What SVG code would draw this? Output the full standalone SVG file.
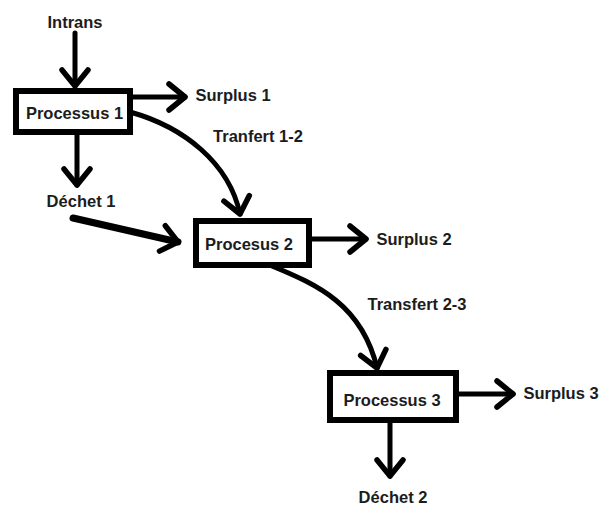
<svg xmlns="http://www.w3.org/2000/svg" width="603" height="507" viewBox="0 0 603 507">
  <defs>
    <style>
      .box { fill: #ffffff; stroke: #000000; stroke-width: 6; }
      .lbl { font-family: "Liberation Sans", Arial, sans-serif; font-weight: bold; font-size: 16.5px; fill: #1c1c1c; text-anchor: middle; }
      .con { fill: none; stroke: #000000; stroke-width: 5; stroke-linecap: round; marker-end: url(#chev); }
      .thick { stroke-width: 7; }
    </style>
    <marker id="chev" markerUnits="userSpaceOnUse" viewBox="-20 -16 24 32" markerWidth="24" markerHeight="32" refX="0" refY="0" orient="auto" overflow="visible">
      <path d="M-16,-13 L0,0 L-16,13" fill="none" stroke="#000000" stroke-width="5.5" stroke-linecap="round" stroke-linejoin="round"/>
    </marker>
  </defs>
  <rect width="603" height="507" fill="#ffffff"/>

  <g id="connectors">
    <path class="con" d="M75,33 L75,86"/>
    <path class="con" d="M133,97 L185,97"/>
    <path class="con" d="M77,135 L77,185"/>
    <path class="con thick" d="M73,218 L178,242"/>
    <path class="con" d="M130,112 C184,127 229,163 240,214"/>
    <path class="con" d="M272,266 C318,285 362,305 377,368"/>
    <path class="con" d="M312,239 L366,239"/>
    <path class="con" d="M459,394 L513,394"/>
    <path class="con" d="M390,423 L390,476"/>
  </g>

  <g id="intrans"><text class="lbl" x="75" y="28">Intrans</text></g>
  <g id="processus1">
    <rect class="box" x="16" y="91" width="114" height="41"/>
    <text class="lbl" x="74.5" y="119">Processus 1</text>
  </g>
  <g id="surplus1"><text class="lbl" x="233" y="101">Surplus 1</text></g>
  <g id="tranfert12"><text class="lbl" x="258" y="142">Tranfert 1-2</text></g>
  <g id="dechet1"><text class="lbl" x="81" y="207">Déchet 1</text></g>
  <g id="processus2">
    <rect class="box" x="196" y="221" width="113" height="44"/>
    <text class="lbl" x="249" y="250">Procesus 2</text>
  </g>
  <g id="surplus2"><text class="lbl" x="414" y="245">Surplus 2</text></g>
  <g id="transfert23"><text class="lbl" x="417" y="310">Transfert 2-3</text></g>
  <g id="processus3">
    <rect class="box" x="330" y="373" width="126" height="47"/>
    <text class="lbl" x="392" y="406">Processus 3</text>
  </g>
  <g id="surplus3"><text class="lbl" x="561" y="399">Surplus 3</text></g>
  <g id="dechet2"><text class="lbl" x="393" y="503">Déchet 2</text></g>
</svg>
